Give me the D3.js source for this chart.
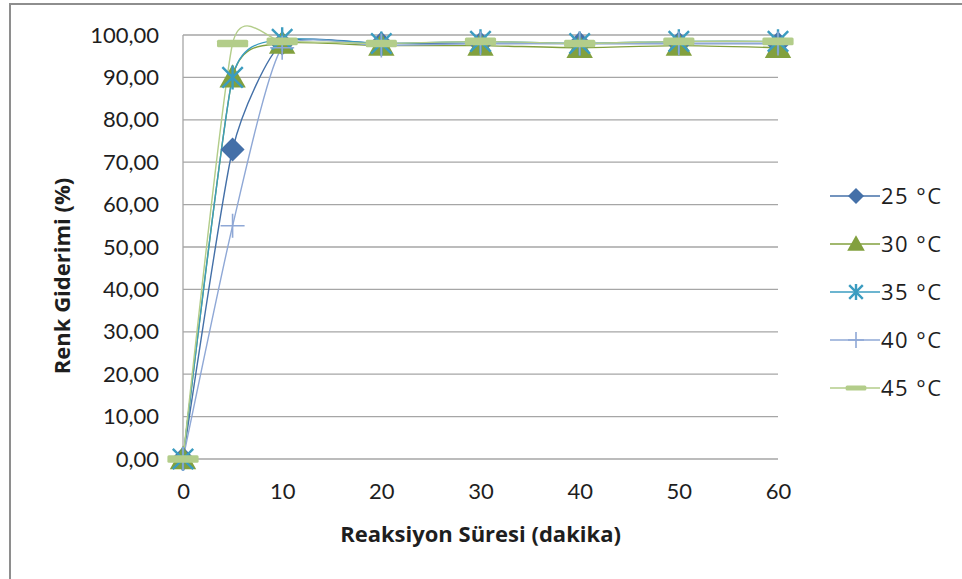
<!DOCTYPE html>
<html>
<head>
<meta charset="utf-8">
<script src="https://cdn.jsdelivr.net/npm/d3@7"></script>
<style>
  body { margin: 0; background: #fff; }
  svg { display: block; font-family: "Open Sans", Lato, sans-serif; }
</style>
</head>
<body>
<svg id="chart" width="962" height="579"></svg>
<script>
// zaman (dakika)
const times = [0, 5, 10, 20, 30, 40, 50, 60]
const seriesNames = ["25 °C", "30 °C", "35 °C", "40 °C", "45 °C"]
const s25 = [0, 73, 98, 98, 98, 98, 98, 98]
const s30 = [0, 90, 98, 97.5, 97.5, 97, 97.5, 97]
const s35 = [0, 90, 99, 98, 98.5, 98, 98.5, 98.5]
const s40 = [0, 55, 97, 97.5, 98, 98, 98, 98]
const s45 = [0, 98, 98.5, 98, 98.5, 98, 98.5, 98.5]
const xTicks = [0, 10, 20, 30, 40, 50, 60]
const yTicks = [0, 10, 20, 30, 40, 50, 60, 70, 80, 90, 100]

const colors = ["#4470a8", "#82a03e", "#3b9cc0", "#8fa8d6", "#b3cd8a"]
const markers = ["diamond", "triangle", "star", "plus", "dash"]

const svg = d3.select("#chart")
const margin = { left: 183, right: 184, top: 35, bottom: 120 }
const W = 962, H = 579
const textColor = "#1e1e1e"

// dış çerçeve
svg.append("rect")
    .attr("x", 10).attr("y", 4)
    .attr("width", 1000).attr("height", 700)
    .attr("fill", "#fff")
    .attr("stroke", "#8e8e8e")
    .attr("stroke-width", 2)

const xScale = d3.scaleLinear().domain([0, 60]).range([margin.left, W - margin.right])
const yScale = d3.scaleLinear().domain([0, 100]).range([H - margin.bottom, margin.top])

// ızgara çizgileri
svg.append("g")
    .selectAll("line")
    .data(yTicks)
    .enter()
    .append("line")
    .attr("x1", xScale(0)).attr("x2", xScale(60))
    .attr("y1", d => yScale(d)).attr("y2", d => yScale(d))
    .attr("stroke", "#a6a6a6")
    .attr("stroke-width", 1.3)

// y ekseni çizgisi
svg.append("line")
    .attr("x1", xScale(0)).attr("x2", xScale(0))
    .attr("y1", yScale(0)).attr("y2", yScale(100))
    .attr("stroke", "#a6a6a6")
    .attr("stroke-width", 1.3)

const fmt = d => d3.format(".2f")(d).replace(".", ",")

const yAxis = svg.append("g")
    .attr("transform", "translate(" + (xScale(0) - 24) + ",0)")
    .call(d3.axisLeft(yScale).tickValues(yTicks).tickFormat(fmt).tickSize(0).tickPadding(0))
yAxis.select(".domain").remove()
yAxis.selectAll("text")
    .attr("font-family", "Lato, 'Open Sans', sans-serif")
    .attr("font-size", 22)
    .attr("fill", textColor)

const xAxis = svg.append("g")
    .attr("transform", "translate(0," + yScale(0) + ")")
    .call(d3.axisBottom(xScale).tickValues(xTicks).tickSize(0).tickPadding(24))
xAxis.select(".domain").remove()
xAxis.selectAll("text")
    .attr("font-family", "Lato, 'Open Sans', sans-serif")
    .attr("font-size", 22)
    .attr("fill", textColor)

// eksen başlıkları
svg.append("text")
    .attr("x", (xScale(0) + xScale(60)) / 2)
    .attr("y", 542)
    .attr("text-anchor", "middle")
    .attr("font-size", 22)
    .attr("font-weight", "bold")
    .attr("fill", textColor)
    .text("Reaksiyon Süresi (dakika)")

svg.append("text")
    .attr("transform", "translate(70," + 276 + ") rotate(-90)")
    .attr("text-anchor", "middle")
    .attr("font-size", 22)
    .attr("font-weight", "bold")
    .attr("fill", textColor)
    .text("Renk Giderimi (%)")

function drawMarker(g, type, color, s) {
    if (type === "diamond") {
        g.append("path")
            .attr("d", "M0," + (-s) + "L" + s + ",0L0," + s + "L" + (-s) + ",0Z")
            .attr("fill", color)
    } else if (type === "triangle") {
        g.append("path")
            .attr("d", "M0," + (-s * 1.1) + "L" + (s * 1.1) + "," + (s * 0.85) + "L" + (-s * 1.1) + "," + (s * 0.85) + "Z")
            .attr("fill", color)
    } else if (type === "star") {
        const d = s * 0.85
        g.append("path")
            .attr("d", "M" + (-d) + "," + (-d) + "L" + d + "," + d + "M" + d + "," + (-d) + "L" + (-d) + "," + d + "M0," + (-s) + "L0," + s)
            .attr("stroke", color)
            .attr("stroke-width", 2.4)
            .attr("fill", "none")
    } else if (type === "plus") {
        g.append("path")
            .attr("d", "M" + (-s) + ",0L" + s + ",0M0," + (-s) + "L0," + s)
            .attr("stroke", color)
            .attr("stroke-width", 1.6)
            .attr("fill", "none")
    } else if (type === "dash") {
        g.append("rect")
            .attr("x", -s * 1.3).attr("y", -s * 0.32)
            .attr("width", s * 2.6).attr("height", s * 0.64)
            .attr("rx", 1.5)
            .attr("fill", color)
    }
}

const allSeries = [s25, s30, s35, s40, s45]

// Excel tarzı yumuşak çizgi
const line = d3.line()
    .x(d => xScale(d[0]))
    .y(d => yScale(d[1]))
    .curve(d3.curveCardinal.tension(0.45))

allSeries.forEach(function (vals, i) {
    const pts = times.map((t, j) => [t, vals[j]])
    svg.append("path")
        .attr("d", line(pts))
        .attr("fill", "none")
        .attr("stroke", colors[i])
        .attr("stroke-width", 1.4)
})

allSeries.forEach(function (vals, i) {
    const pts = times.map((t, j) => [t, vals[j]])
    pts.forEach(function (p) {
        const g = svg.append("g")
            .attr("transform", "translate(" + xScale(p[0]) + "," + yScale(p[1]) + ")")
        drawMarker(g, markers[i], colors[i], 12)
    })
})

// lejant
const legend = svg.append("g")
seriesNames.forEach(function (name, i) {
    const y = 196 + i * 48
    const g = legend.append("g").attr("transform", "translate(0," + y + ")")
    g.append("line")
        .attr("x1", 830).attr("x2", 880)
        .attr("y1", 0).attr("y2", 0)
        .attr("stroke", colors[i])
        .attr("stroke-width", 1.6)
    const m = g.append("g").attr("transform", "translate(856,0)")
    drawMarker(m, markers[i], colors[i], 8)
    g.append("text")
        .attr("x", 881)
        .attr("y", 0)
        .attr("dy", "0.36em")
        .attr("font-size", 22)
        .attr("letter-spacing", 1.5)
        .attr("fill", textColor)
        .text(name)
})
</script>
</body>
</html>
